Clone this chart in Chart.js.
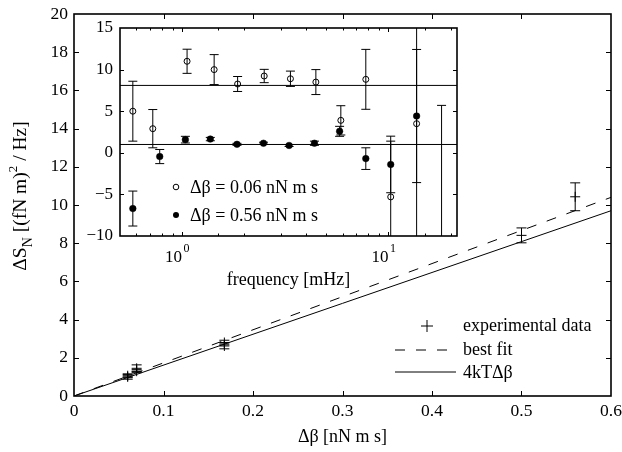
<!DOCTYPE html>
<html>
<head>
<meta charset="utf-8">
<script src="https://cdn.jsdelivr.net/npm/chart.js@4.4.0/dist/chart.umd.min.js"></script>
<style>
  html, body { margin: 0; padding: 0; background: #fff; }
  #wrap { position: relative; width: 622px; height: 452px; }
  #wrap canvas { position: absolute; left: 0; top: 0; }
</style>
</head>
<body>
<div id="wrap">
  <canvas id="main" width="622" height="452"></canvas>
  <canvas id="inset" width="622" height="452"></canvas>
</div>
<script>
// excess force noise against added damping
const dampX = [0.06, 0.06, 0.07, 0.07, 0.168, 0.168, 0.5, 0.56];
const noiseY = [1.0, 1.06, 1.3, 1.45, 2.62, 2.8, 8.41, 10.43];
const noiseErr = [0.12, 0.1, 0.08, 0.18, 0.15, 0.12, 0.39, 0.73];
const lineX = [0, 0.6];
const bestFitY = [0, 10.4];
const theoryY = [0, 9.7];

// inset: the difference spectrum for two damping steps
const freqLow = [0.577, 0.721, 1.057, 1.43, 1.858, 2.5, 3.35, 4.45, 5.88, 7.77, 10.26, 13.7, 18.1];
const lowY = [5.0, 2.9, 11.0, 10.0, 8.27, 9.23, 8.9, 8.5, 3.9, 8.83, -5.3, 3.5, -12];
const lowErr = [3.6, 2.3, 1.45, 1.8, 0.9, 0.8, 0.92, 1.5, 1.76, 3.6, 6.7, 15, 17.7];
const freqHigh = [0.577, 0.779, 1.037, 1.37, 1.845, 2.48, 3.3, 4.38, 5.8, 7.77, 10.26, 13.7];
const highY = [-6.7, -0.45, 1.58, 1.65, 1.02, 1.15, 0.88, 1.15, 2.58, -0.7, -1.4, 4.42];
const highErr = [2.1, 0.85, 0.4, 0.2, 0.12, 0.12, 0.12, 0.25, 0.6, 1.3, 3.4, 8.0];
const levelLow = 8.1;
const levelHigh = 1.0;
const freqRange = [0.5, 21.5];

const SERIF = '"Liberation Serif", "Times New Roman", serif';
const font = (size) => size + 'px ' + SERIF;

function pts(xs, ys) {
  return xs.map((x, i) => ({ x: x, y: ys[i] }));
}

// fixed scale sizes so the plot boxes land where we want them
function fixSize(w, h) {
  return (scale) => {
    if (w != null) scale.width = w;
    if (h != null) scale.height = h;
    scale.paddingLeft = scale.paddingRight = scale.paddingTop = scale.paddingBottom = 0;
  };
}

function errorBars(ctx, chart, dsIndex, errs, cap) {
  const meta = chart.getDatasetMeta(dsIndex);
  const ys = chart.scales.y;
  meta.data.forEach((pt, i) => {
    const v = chart.data.datasets[dsIndex].data[i].y;
    const top = ys.getPixelForValue(v + errs[i]);
    const bot = ys.getPixelForValue(v - errs[i]);
    ctx.beginPath();
    ctx.moveTo(pt.x, top); ctx.lineTo(pt.x, bot);
    ctx.moveTo(pt.x - cap, top); ctx.lineTo(pt.x + cap, top);
    ctx.moveTo(pt.x - cap, bot); ctx.lineTo(pt.x + cap, bot);
    ctx.stroke();
  });
}

function frameAndTicks(ctx, chart, len, minorLen) {
  const a = chart.chartArea;
  ctx.save();
  ctx.strokeStyle = '#000';
  ctx.lineWidth = 1;
  ctx.beginPath();
  chart.scales.x.ticks.forEach((t) => {
    if (t.value <= chart.scales.x.min || t.value >= chart.scales.x.max) return;
    const px = Math.round(chart.scales.x.getPixelForValue(t.value)) + 0.5;
    let l = len;
    if (minorLen) {
      const e = Math.log10(t.value);
      l = Math.abs(e - Math.round(e)) < 1e-6 ? len : minorLen;
    }
    ctx.moveTo(px, a.bottom); ctx.lineTo(px, a.bottom - l);
    ctx.moveTo(px, a.top); ctx.lineTo(px, a.top + l);
  });
  chart.scales.y.ticks.forEach((t) => {
    if (t.value <= chart.scales.y.min || t.value >= chart.scales.y.max) return;
    const py = Math.round(chart.scales.y.getPixelForValue(t.value)) + 0.5;
    ctx.moveTo(a.left, py); ctx.lineTo(a.left + len, py);
    ctx.moveTo(a.right, py); ctx.lineTo(a.right - len, py);
  });
  ctx.stroke();
  ctx.lineWidth = 1.6;
  ctx.strokeRect(a.left, a.top, a.right - a.left, a.bottom - a.top);
  ctx.restore();
}

const mainDecor = {
  id: 'mainDecor',
  afterDatasetsDraw(chart) {
    const ctx = chart.ctx;
    ctx.save();
    ctx.strokeStyle = '#000';
    ctx.lineWidth = 1;
    errorBars(ctx, chart, 0, noiseErr, 5);
    ctx.restore();
  },
  afterDraw(chart) {
    const ctx = chart.ctx;
    frameAndTicks(ctx, chart, 5);

    // legend
    ctx.save();
    ctx.strokeStyle = '#000';
    ctx.fillStyle = '#000';
    ctx.lineWidth = 1;
    ctx.beginPath();
    ctx.moveTo(421, 326); ctx.lineTo(433, 326);
    ctx.moveTo(427, 320); ctx.lineTo(427, 332);
    ctx.stroke();
    ctx.setLineDash([10, 11]);
    ctx.beginPath(); ctx.moveTo(395, 350); ctx.lineTo(456, 350); ctx.stroke();
    ctx.setLineDash([]);
    ctx.beginPath(); ctx.moveTo(395, 372); ctx.lineTo(456, 372); ctx.stroke();
    ctx.font = font(18);
    ctx.textBaseline = 'alphabetic';
    ctx.fillText('experimental data', 463, 331);
    ctx.fillText('best fit', 463, 355);
    ctx.fillText('4kT\u0394\u03B2', 463, 378);

    // y title with subscript and superscript
    ctx.translate(26, 196);
    ctx.rotate(-Math.PI / 2);
    const parts = [
      ['\u0394S', 19.5, 0],
      ['N', 14, 6],
      [' [(fN m)', 19.5, 0],
      ['2', 13, -9],
      [' / Hz]', 19.5, 0]
    ];
    let total = 0;
    parts.forEach((p) => { ctx.font = font(p[1]); total += ctx.measureText(p[0]).width; });
    let x = -total / 2;
    parts.forEach((p) => {
      ctx.font = font(p[1]);
      ctx.fillText(p[0], x, p[2]);
      x += ctx.measureText(p[0]).width;
    });
    ctx.restore();
  }
};

const insetDecor = {
  id: 'insetDecor',
  beforeDatasetsDraw(chart) {
    const ctx = chart.ctx;
    const a = chart.chartArea;
    ctx.save();
    ctx.beginPath();
    ctx.rect(a.left, a.top, a.right - a.left, a.bottom - a.top);
    ctx.clip();
    ctx.strokeStyle = '#000';
    ctx.lineWidth = 1;
    errorBars(ctx, chart, 2, lowErr, 4.5);
    errorBars(ctx, chart, 3, highErr, 4.5);
    ctx.restore();
  },
  afterDraw(chart) {
    const ctx = chart.ctx;
    frameAndTicks(ctx, chart, 4, 2.5);
    const xs = chart.scales.x;
    ctx.save();
    ctx.fillStyle = '#000';
    ctx.strokeStyle = '#000';
    ctx.textBaseline = 'alphabetic';
    [1, 10].forEach((v, i) => {
      const px = xs.getPixelForValue(v);
      ctx.font = font(17);
      ctx.textAlign = 'right';
      ctx.fillText('10', px, 262);
      ctx.font = font(12);
      ctx.textAlign = 'left';
      ctx.fillText(String(i), px + 1.5, 252);
    });

    // legend
    ctx.lineWidth = 1;
    ctx.beginPath();
    ctx.arc(176, 187, 2.8, 0, Math.PI * 2);
    ctx.stroke();
    ctx.beginPath();
    ctx.arc(176, 215, 3, 0, Math.PI * 2);
    ctx.fill();
    ctx.font = font(18);
    ctx.textAlign = 'left';
    ctx.fillText('\u0394\u03B2 = 0.06 nN m s', 190, 193);
    ctx.fillText('\u0394\u03B2 = 0.56 nN m s', 190, 221);
    ctx.restore();
  }
};

Chart.defaults.font.family = SERIF;
Chart.defaults.color = '#000';

new Chart(document.getElementById('main'), {
  type: 'scatter',
  data: {
    datasets: [
      {
        label: 'experimental data',
        data: pts(dampX, noiseY),
        pointStyle: 'cross',
        pointRadius: 5,
        borderColor: '#000',
        borderWidth: 1
      },
      {
        label: 'best fit',
        type: 'line',
        data: pts(lineX, bestFitY),
        borderColor: '#000',
        borderWidth: 1,
        borderDash: [10, 11],
        pointRadius: 0
      },
      {
        label: '4kT\u0394\u03B2',
        type: 'line',
        data: pts(lineX, theoryY),
        borderColor: '#000',
        borderWidth: 1,
        pointRadius: 0
      }
    ]
  },
  options: {
    responsive: false,
    animation: false,
    devicePixelRatio: 1,
    layout: { padding: { left: 0, right: 11, top: 14, bottom: 0 } },
    plugins: { legend: { display: false }, tooltip: { enabled: false } },
    scales: {
      x: {
        type: 'linear',
        min: 0, max: 0.6,
        afterFit: fixSize(null, 56),
        grid: { display: false, drawTicks: false },
        border: { display: false },
        ticks: { stepSize: 0.1, padding: 5, maxRotation: 0, font: { size: 17.5 } },
        title: { display: true, text: '\u0394\u03B2 [nN m s]', font: { size: 18 }, padding: { top: 0, bottom: 4 } }
      },
      y: {
        min: 0, max: 20,
        afterFit: fixSize(74, null),
        grid: { display: false, drawTicks: false },
        border: { display: false },
        ticks: { stepSize: 2, padding: 6, font: { size: 17.5 } }
      }
    }
  },
  plugins: [mainDecor]
});

new Chart(document.getElementById('inset'), {
  type: 'scatter',
  data: {
    datasets: [
      {
        label: 'level low',
        type: 'line',
        data: pts(freqRange, [levelLow, levelLow]),
        borderColor: '#000', borderWidth: 1, pointRadius: 0
      },
      {
        label: 'level high',
        type: 'line',
        data: pts(freqRange, [levelHigh, levelHigh]),
        borderColor: '#000', borderWidth: 1, pointRadius: 0
      },
      {
        label: '\u0394\u03B2 = 0.06 nN m s',
        data: pts(freqLow, lowY),
        pointStyle: 'circle',
        pointRadius: 3,
        borderColor: '#000',
        backgroundColor: 'rgba(0,0,0,0)',
        borderWidth: 1
      },
      {
        label: '\u0394\u03B2 = 0.56 nN m s',
        data: pts(freqHigh, highY),
        pointStyle: 'circle',
        pointRadius: 3.3,
        borderColor: '#000',
        backgroundColor: '#000',
        borderWidth: 0.5
      }
    ]
  },
  options: {
    responsive: false,
    animation: false,
    devicePixelRatio: 1,
    layout: { padding: { left: 80, right: 165, top: 28, bottom: 161 } },
    plugins: { legend: { display: false }, tooltip: { enabled: false } },
    scales: {
      x: {
        type: 'logarithmic',
        min: freqRange[0], max: freqRange[1],
        afterFit: fixSize(null, 55),
        grid: { display: false, drawTicks: false },
        border: { display: false },
        ticks: { callback: () => '', maxRotation: 0, autoSkip: false },
        title: { display: true, text: 'frequency [mHz]', font: { size: 18 }, padding: { top: 0, bottom: 0 } }
      },
      y: {
        min: -10, max: 15,
        afterFit: fixSize(40, null),
        grid: { display: false, drawTicks: false },
        border: { display: false },
        ticks: {
          stepSize: 5, padding: 7, font: { size: 17 },
          callback: (v) => String(v).replace('-', '\u2212')
        }
      }
    }
  },
  plugins: [insetDecor]
});
</script>
</body>
</html>
